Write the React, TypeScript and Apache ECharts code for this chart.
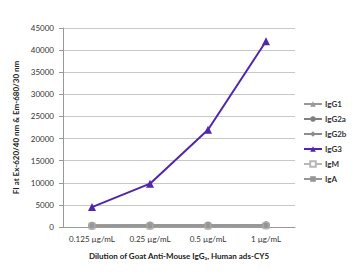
import React, { useEffect, useRef } from "react";
import * as echarts from "echarts";

const categories = ["0.125 µg/mL", "0.25 µg/mL", "0.5 µg/mL", "1 µg/mL"];
const igG1 = [250, 260, 270, 300];
const igG2a = [300, 320, 330, 380];
const igG2b = [250, 260, 280, 310];
const igG3 = [4500, 9800, 22000, 42000];
const igM = [200, 220, 240, 260];
const igA = [280, 290, 300, 330];
const yTicks = { min: 0, max: 45000, interval: 5000 };

const FONT = "Lato, 'Open Sans', sans-serif";

export default function App() {
  const ref = useRef<HTMLDivElement>(null);
  useEffect(() => {
    const chart = echarts.init(ref.current!, null, { renderer: "svg" });
    const gray = (name: string, data: number[], color: string, symbol: string, size: number) => ({
      name,
      type: "line",
      data,
      symbol,
      symbolSize: size,
      lineStyle: { color, width: 2.5 },
      itemStyle: { color },
      z: 2,
    });
    chart.setOption({
      animation: false,
      textStyle: { fontFamily: FONT },
      graphic: [
        {
          type: "rect",
          shape: { x: 4, y: 6, width: 2, height: 271 },
          style: { fill: "#d4d4d4" },
          silent: true,
        },
        {
          type: "rect",
          shape: { x: 4, y: 6, width: 354, height: 2 },
          style: { fill: "#d4d4d4" },
          silent: true,
        },
      ],
      grid: { left: 63, right: 63, top: 28, bottom: 50 },
      legend: {
        orient: "vertical",
        left: 298,
        top: 95,
        itemGap: 7,
        itemWidth: 18,
        itemHeight: 7,
        textStyle: { fontSize: 8, fontWeight: "bold", color: "#333", fontFamily: FONT, padding: [0, 0, 0, -2] },
        data: ["IgG1", "IgG2a", "IgG2b", "IgG3", "IgM", "IgA"],
      },
      xAxis: {
        type: "category",
        data: categories,
        name: "Dilution of Goat Anti-Mouse IgG₃, Human ads-CY5",
        nameLocation: "middle",
        nameGap: 25,
        nameTextStyle: { fontSize: 8, fontWeight: "bold", color: "#222", fontFamily: FONT },
        axisLine: { lineStyle: { color: "#999" } },
        axisTick: { lineStyle: { color: "#999" }, length: 4 },
        axisLabel: { fontSize: 8, color: "#333", margin: 8, fontFamily: FONT, interval: 0 },
      },
      yAxis: {
        type: "value",
        min: yTicks.min,
        max: yTicks.max,
        interval: yTicks.interval,
        name: "FI at Ex-620/40 nm & Em-680/30 nm",
        nameLocation: "middle",
        nameGap: 41,
        nameTextStyle: { fontSize: 8, fontWeight: "bold", color: "#222", fontFamily: FONT },
        axisLine: { show: true, lineStyle: { color: "#999" } },
        axisTick: { show: true, lineStyle: { color: "#999" }, length: 4 },
        axisLabel: { fontSize: 8, color: "#333", margin: 9, fontFamily: FONT, formatter: (v: number) => String(v) },
        splitLine: { lineStyle: { color: "#c8c8c8" } },
      },
      series: [
        gray("IgG1", igG1, "#9a9a9a", "triangle", 6),
        gray("IgG2a", igG2a, "#808080", "circle", 8),
        gray("IgG2b", igG2b, "#8c8c8c", "diamond", 6),
        {
          name: "IgG3",
          type: "line",
          data: igG3,
          symbol: "triangle",
          symbolSize: 8,
          lineStyle: { color: "#5125ad", width: 2 },
          itemStyle: { color: "#5125ad" },
          z: 3,
        },
        gray("IgM", igM, "#b8b8b8", "emptyRect", 5),
        gray("IgA", igA, "#969696", "rect", 5),
      ],
    });
    return () => chart.dispose();
  }, []);
  return <div ref={ref} style={{ width: 358, height: 277, margin: -8 }} />;
}
